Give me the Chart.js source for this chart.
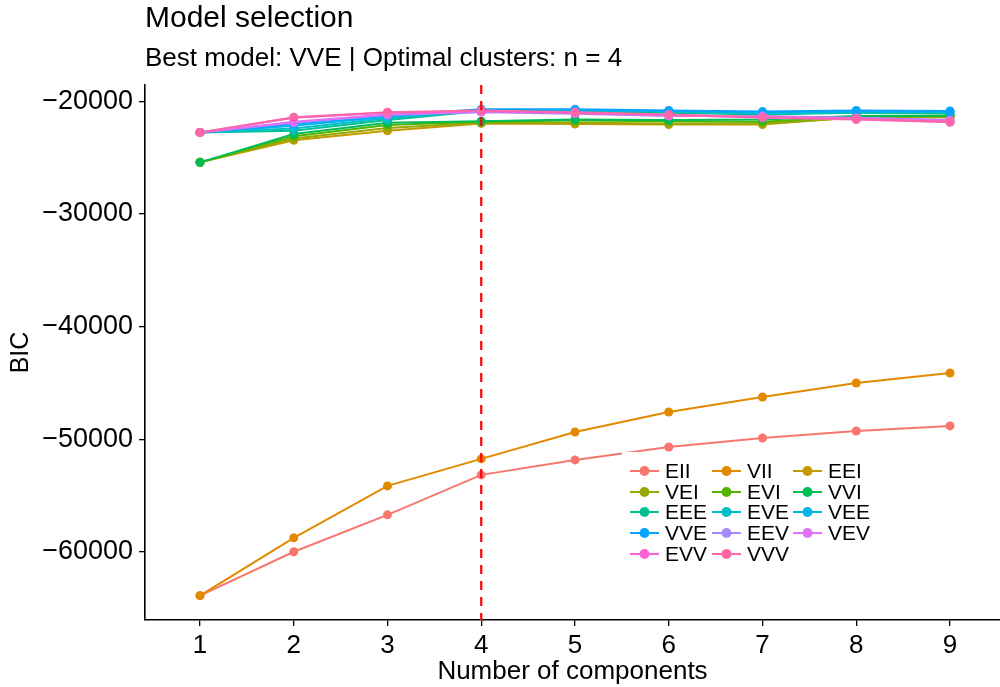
<!DOCTYPE html>
<html>
<head>
<meta charset="utf-8">
<title>Model selection</title>
<script src="https://cdn.jsdelivr.net/npm/chart.js@4.4.1/dist/chart.umd.min.js"></script>
<style>
  html, body { margin: 0; padding: 0; background: #fff; }
  #wrap { width: 1000px; height: 687px; }
</style>
</head>
<body>
<div id="wrap"><canvas id="bic-plot" width="1000" height="687"></canvas></div>
<script>
"use strict";

/* --- DATA --- */

const components = [1, 2, 3, 4, 5, 6, 7, 8, 9];
const yTicks = [-60000, -50000, -40000, -30000, -20000];

const plotTitle = 'Model selection';
const bestModel = 'VVE';
const optimalN = 4;

const modelNames = ['EII', 'VII', 'EEI', 'VEI', 'EVI', 'VVI', 'EEE', 'EVE', 'VEE', 'VVE', 'EEV', 'VEV', 'EVV', 'VVV'];
const modelColors = ['#F8766D', '#E38900', '#C49A00', '#99A800', '#53B400', '#00BC56', '#00C094',
                     '#00BFC4', '#00B6EB', '#06A4FF', '#A58AFF', '#DF70F8', '#FB61D7', '#FF66A8'];

const bicEII = [-63900, -60000, -56720, -53170, -51840, -50690, -49890, -49270, -48820];
const bicVII = [-63900, -58760, -54150, -51750, -49360, -47580, -46250, -45010, -44120];
const bicEEI = [-25410, -23450, -22600, -21950, -22000, -22050, -22050, -21400, -21350];
const bicVEI = [-25410, -23300, -22350, -21900, -21900, -21950, -21950, -21450, -21400];
const bicEVI = [-25410, -23100, -22100, -21800, -21700, -21750, -21800, -21350, -21300];
const bicVVI = [-25410, -22900, -21900, -21750, -21600, -21650, -21600, -21300, -21250];
const bicEEE = [-22750, -22600, -21650, -20850, -20850, -21000, -21150, -21000, -21050];
const bicEVE = [-22750, -22400, -21500, -20800, -20800, -20900, -21050, -20950, -20950];
const bicVEE = [-22750, -22150, -21350, -20750, -20750, -20850, -20950, -20900, -20900];
const bicVVE = [-22750, -22000, -21250, -20700, -20700, -20800, -20900, -20800, -20850];
const bicEEV = [-22750, -21900, -21200, -20950, -21100, -21300, -21300, -21450, -21650];
const bicVEV = [-22750, -21800, -21150, -20900, -21050, -21250, -21350, -21500, -21700];
const bicEVV = [-22750, -21450, -21000, -20850, -21000, -21200, -21450, -21600, -21850];
const bicVVV = [-22750, -21400, -20950, -20800, -20950, -21150, -21400, -21550, -21800];

const bicByModel = [bicEII, bicVII, bicEEI, bicVEI, bicEVI, bicVVI, bicEEE,
                    bicEVE, bicVEE, bicVVE, bicEEV, bicVEV, bicEVV, bicVVV];

/* --- CHART --- */

const FONT = "'Liberation Sans', Arial, Helvetica, sans-serif";
Chart.defaults.font.family = FONT;
Chart.defaults.color = '#000';

function toPoints(values) {
  return components.map((c, i) => ({ x: c, y: values[i] }));
}

// ggplot draws every line first, then every point, last group on top
let datasets = [];
modelNames.forEach((name, i) => {
  datasets.push({
    label: name,
    data: toPoints(bicByModel[i]),
    borderColor: modelColors[i],
    backgroundColor: modelColors[i],
    borderWidth: 2,
    pointRadius: 0,
    tension: 0,
    order: 200 - i
  });
});
modelNames.forEach((name, i) => {
  datasets.push({
    label: name + '_pts',
    data: toPoints(bicByModel[i]),
    showLine: false,
    borderColor: modelColors[i],
    backgroundColor: modelColors[i],
    borderWidth: 0,
    pointRadius: 4.5,
    pointHoverRadius: 4.5,
    order: 100 - i
  });
});

const titlesPlugin = {
  id: 'titles',
  afterDraw(chart) {
    const ctx = chart.ctx;
    const left = chart.chartArea.left;
    ctx.save();
    ctx.fillStyle = '#000';
    ctx.textAlign = 'left';
    ctx.textBaseline = 'middle';
    ctx.font = '30px ' + FONT;
    ctx.fillText(plotTitle, left, 19);
    ctx.font = '26px ' + FONT;
    ctx.fillText('Best model: ' + bestModel + ' | Optimal clusters: n = ' + optimalN, left, 59);
    ctx.restore();
  }
};

const vlinePlugin = {
  id: 'vline',
  afterDatasetsDraw(chart) {
    const { ctx, chartArea, scales } = chart;
    const x = scales.x.getPixelForValue(optimalN);
    ctx.save();
    ctx.strokeStyle = '#FF0000';
    ctx.lineWidth = 2.2;
    ctx.setLineDash([9, 7]);
    ctx.beginPath();
    ctx.moveTo(x, chartArea.top);
    ctx.lineTo(x, chartArea.bottom);
    ctx.stroke();
    ctx.restore();
  }
};

const legendPlugin = {
  id: 'insideLegend',
  afterDraw(chart) {
    const ctx = chart.ctx;
    const colX = [630, 712, 793];
    const rowY = [471, 492, 512, 533, 554];
    ctx.save();
    ctx.fillStyle = '#fff';
    ctx.fillRect(622, 452, 258, 116);
    ctx.font = '21px ' + FONT;
    ctx.textAlign = 'left';
    ctx.textBaseline = 'middle';
    modelNames.forEach((name, i) => {
      const kx = colX[i % 3];
      const ky = rowY[Math.floor(i / 3)];
      ctx.strokeStyle = modelColors[i];
      ctx.lineWidth = 2;
      ctx.beginPath();
      ctx.moveTo(kx, ky);
      ctx.lineTo(kx + 29, ky);
      ctx.stroke();
      ctx.fillStyle = modelColors[i];
      ctx.beginPath();
      ctx.arc(kx + 14.5, ky, 5, 0, Math.PI * 2);
      ctx.fill();
      ctx.fillStyle = '#000';
      ctx.fillText(name, kx + 35, ky + 1);
    });
    ctx.restore();
  }
};

const bic_plot = new Chart(document.getElementById('bic-plot'), {
  type: 'line',
  data: { datasets: datasets },
  options: {
    responsive: false,
    animation: false,
    events: [],
    layout: { autoPadding: false, padding: { top: 85, right: 0, left: 0, bottom: 0 } },
    plugins: {
      legend: { display: false },
      tooltip: { enabled: false },
      title: { display: false }
    },
    scales: {
      x: {
        type: 'linear',
        min: 0.4133,
        max: 9.5333,
        afterBuildTicks(scale) {
          scale.ticks = components.map(v => ({ value: v }));
        },
        afterFit(scale) {
          scale.height = 67;
          scale.paddingLeft = 0;
          scale.paddingRight = 0;
        },
        grid: { display: true, drawOnChartArea: false, drawTicks: true, tickLength: 6, color: '#000', lineWidth: 1.3 },
        border: { display: true, color: '#000', width: 1.6 },
        ticks: { font: { size: 26 }, color: '#000', padding: 4, maxRotation: 0 },
        title: { display: true, text: 'Number of components', font: { size: 26 }, color: '#000', padding: 0 }
      },
      y: {
        type: 'linear',
        min: -66060,
        max: -18540,
        afterBuildTicks(scale) {
          scale.ticks = yTicks.map(v => ({ value: v }));
        },
        afterFit(scale) {
          scale.width = 145;
          scale.paddingTop = 0;
          scale.paddingBottom = 0;
        },
        grid: { display: true, drawOnChartArea: false, drawTicks: true, tickLength: 6, color: '#000', lineWidth: 1.3 },
        border: { display: true, color: '#000', width: 1.6 },
        ticks: {
          font: { size: 27 },
          color: '#000',
          padding: 6,
          callback: v => (v < 0 ? '\u2212' : '') + Math.abs(v)
        },
        title: { display: true, text: 'BIC', font: { size: 25 }, color: '#000', padding: { top: 6, bottom: 0 } }
      }
    }
  },
  plugins: [vlinePlugin, titlesPlugin, legendPlugin]
});
</script>
</body>
</html>
